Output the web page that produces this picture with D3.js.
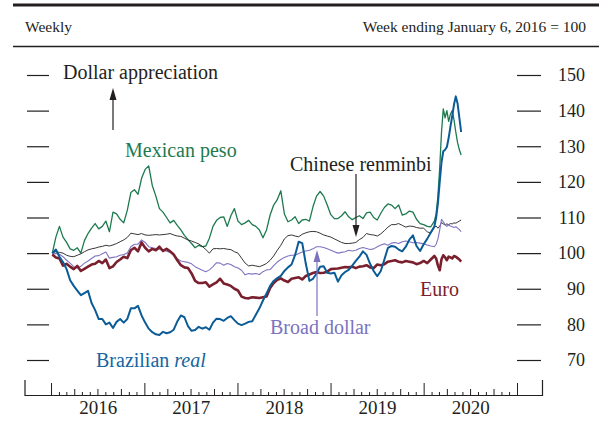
<!DOCTYPE html>
<html><head><meta charset="utf-8">
<script src="https://cdnjs.cloudflare.com/ajax/libs/d3/7.8.5/d3.min.js"></script>
<style>
body{margin:0;background:#fff;}
svg{display:block;font-family:"Liberation Serif","Times New Roman",serif;}
</style></head><body>
<svg id="chart" width="599" height="421"></svg>
<script>
const dates = [
"2016-01-06","2016-01-20","2016-02-03","2016-02-17","2016-03-02","2016-03-16","2016-03-30","2016-04-13","2016-04-27","2016-05-11","2016-05-25","2016-06-08","2016-06-22","2016-07-06","2016-07-20","2016-08-03","2016-08-17","2016-08-31","2016-09-14","2016-09-28","2016-10-12","2016-10-26","2016-11-09","2016-11-23","2016-12-07","2016-12-21",
"2017-01-04","2017-01-18","2017-02-01","2017-02-15","2017-03-01","2017-03-15","2017-03-29","2017-04-12","2017-04-26","2017-05-10","2017-05-24","2017-06-07","2017-06-21","2017-07-05","2017-07-19","2017-08-02","2017-08-16","2017-08-30","2017-09-13","2017-09-27","2017-10-11","2017-10-25","2017-11-08","2017-11-22","2017-12-06","2017-12-20",
"2018-01-03","2018-01-17","2018-01-31","2018-02-14","2018-02-28","2018-03-14","2018-03-28","2018-04-11","2018-04-25","2018-05-09","2018-05-23","2018-06-06","2018-06-20","2018-07-04","2018-07-18","2018-08-01","2018-08-15","2018-08-29","2018-09-12","2018-09-26","2018-10-10","2018-10-24","2018-11-07","2018-11-21","2018-12-05","2018-12-19",
"2019-01-02","2019-01-16","2019-01-30","2019-02-13","2019-02-27","2019-03-13","2019-03-27","2019-04-10","2019-04-24","2019-05-08","2019-05-22","2019-06-05","2019-06-19","2019-07-03","2019-07-17","2019-07-31","2019-08-14","2019-08-28","2019-09-11","2019-09-25","2019-10-09","2019-10-23","2019-11-06","2019-11-20","2019-12-04","2019-12-18",
"2020-01-01","2020-01-15","2020-01-29","2020-02-12","2020-02-19","2020-02-26","2020-03-04","2020-03-11","2020-03-18","2020-03-25","2020-04-01","2020-04-08","2020-04-15","2020-04-22","2020-04-29","2020-05-06","2020-05-13","2020-05-20","2020-05-27"
];

const mexicanPeso = [
100,104.5,107.5,104.5,103,101.2,100.8,101.5,100,103.5,105.5,107,108.3,106.8,107.5,109,106,111.5,111,109.5,108.5,112,117,117.8,116.5,121,
123.5,124.5,119,116,112.5,111.5,110,108.5,109.2,107.8,106.5,105,103.8,102.7,101.5,102.2,101.8,102,104.2,107.5,109.2,110,110.2,107.5,110.5,112.5,
109,108,108.5,109.2,108,107.5,106.5,104.3,106.5,110.7,113.5,115,117.5,111,108.8,109.3,110.2,108.3,109.3,109.5,109,113,116,117.3,116,113.5,
110.8,109.7,109.7,110.5,111.6,110.2,109.4,110,110.5,109.7,111.3,111.5,110,109.3,111.2,112.8,113.8,113.5,112.5,113.5,110.7,111,111.8,111.5,109.5,108.3,
108,107.5,107.4,109,111,116,124,134,140.5,138,140,137,139,140,137.4,134,131,129,127.5
];

const chineseRenminbi = [
100,100.4,100.2,100,99.4,99.1,99,99.4,99.8,100.4,100.9,101.2,101.4,101.7,101.9,102.2,102,102.3,102.7,103.2,103.7,104.4,105.6,105.4,105.2,105.5,
105.1,105,105.1,105.2,105.1,105.2,105.3,105.5,105.1,104.8,104.7,104.2,103.7,103.4,103,102.6,101.9,101,100,101.2,101.3,101.2,101.3,101.1,101,100.4,
100,98.6,97.2,96.4,96.6,96.4,96.2,96.6,97.1,98,99.2,100.8,102.2,104,104.9,105.1,104.8,104.6,105.3,105.7,106,106.1,106,105.6,105.1,104.8,
104.5,104,103.5,103,102.7,102.7,102.8,103,103.8,104.4,105.5,105.2,105.1,104.8,105.4,106.3,107.3,108,108,108.3,107.8,107.3,107.6,107.5,107.2,107,
107,106,105.6,107.2,107.6,107,107.6,108.6,108.2,107.9,108.2,108,108.3,108.2,108.5,108.4,108.7,109,109.3
];

const broadDollar = [
99.8,99.9,99.7,99,98,97.2,96.2,95.8,96.3,97.2,97.8,98.5,99.2,99.3,99.8,100.3,98.6,98.8,99,99.4,99.6,100,101.8,102.5,102.5,103.7,
103,101.8,101.5,101.3,101,100.8,100.5,100.2,99.4,98.4,97.8,97.6,97.4,97,96.2,95.7,95.2,94.8,95.3,96.2,97.3,97.2,96.6,97.1,96.8,96.2,
95.8,95.2,93.9,94.3,94.1,94.3,94,94.8,95.3,95.4,96.5,97.5,98.2,98.8,99.2,99.4,99.4,99.9,100.3,100.6,100.8,101.2,101.8,101.8,101.6,101.2,
100.8,100.4,100,100.2,100.4,100.8,100.6,100.8,101.3,101.6,101.3,101,101.2,101.8,102.3,102.6,102.2,102.8,103,102.7,103.2,103.4,103.2,102.9,103,102.8,
102.6,102.3,102,101.8,102.5,104,106.5,109.5,108.8,108,107.5,107.9,107.6,107.4,107.2,107.4,107,106.6,106
];

const euro = [
99.6,98.8,98.5,96.5,97,96.2,95.5,96.4,95,95.6,96.2,96.8,97,97.8,97.2,98.2,95.8,96.3,97.5,98.2,99,98.6,100.8,101.5,100.5,103,
101.5,100.5,101.2,100.8,101.8,100.6,101.2,100.5,99.6,98,96.6,96,95.8,94.3,92.2,91.6,91.6,91.8,90.6,91.2,91.8,92.8,91.5,91.2,90.8,90,
89.5,87.8,87.4,87.3,87.6,87.5,87.4,87.6,87.8,90.2,91.6,92.5,92.9,92.3,91.9,92.8,93,93.2,92.6,93.6,94,94.4,94.7,94.4,94.5,94.8,
95.5,95.6,95.7,95.9,96.1,96,96.2,95.8,96.2,96.3,96.6,96,95.8,96.8,96.6,96.9,97.6,97.8,98,97.6,97.4,97.8,97.6,97.4,96.9,97.2,
97.8,97.2,98.2,99.2,98.5,96.5,95.2,98.3,99.4,98.8,98,99,98.8,98.5,99.2,99,98.6,98.2,97.6
];

const brazilianReal = [
100,101,99,97.5,95.5,92.4,90.8,89.5,88.2,88.8,89.4,86,84,81.5,81.5,80,80.5,79,80.7,81.5,80.5,81.5,84.5,84.5,85.2,82.5,
80.5,78.8,77.8,77.2,77,77.9,77.5,77.8,78.5,80.8,82.5,82,79.5,78.2,78.4,79.3,78.8,79.2,78.5,80.5,81.6,81.5,81,81.8,82.3,81.2,
80.2,79.8,80.2,80.7,80.9,82.7,84.5,86.7,88.7,90.8,92.2,93,93.6,95,96,96.8,99.5,103.2,102.8,97,92.2,92.8,94.3,96.2,96.3,94.5,
94.3,94.5,92,93.8,94.7,95.3,96.5,97.8,99,100.5,99.5,97,95,93.5,95,98.2,101.5,102,101.8,101,100.5,101.8,103.8,105,102,100.6,
102.5,104,105.8,107.5,110,114,120,125.5,128.6,129,129.8,132.3,135.5,138.5,141.7,144,142,138,134
];

const yTicks = [70, 80, 90, 100, 110, 120, 130, 140, 150];
const yearLabels = ["2016", "2017", "2018", "2019", "2020"];

const svg = d3.select("#chart");
const ink = "#231f20";
const parse = d3.utcParse("%Y-%m-%d");
const x = d3.scaleUtc().domain([parse("2015-09-19"), parse("2021-04-09")]).range([24.5, 542]);
const y = d3.scaleLinear().domain([70, 150]).range([360, 75]);

// header
svg.append("line").attr("x1", 13).attr("x2", 599).attr("y1", 5).attr("y2", 5)
  .attr("stroke", ink).attr("stroke-width", 3);
svg.append("line").attr("x1", 13).attr("x2", 599).attr("y1", 46.5).attr("y2", 46.5)
  .attr("stroke", ink).attr("stroke-width", 1.4);
svg.append("text").attr("x", 25).attr("y", 32).attr("font-size", 15.5).attr("fill", ink).text("Weekly");
svg.append("text").attr("x", 586).attr("y", 32).attr("font-size", 15.5).attr("fill", ink)
  .attr("text-anchor", "end").text("Week ending January 6, 2016 = 100");

// y ticks both sides
const leftAxis = d3.axisRight(y).tickValues(yTicks).tickSize(22).tickFormat("");
svg.append("g").attr("transform", "translate(27,0)").call(leftAxis)
  .call(g => g.select(".domain").remove())
  .call(g => g.selectAll("line").attr("stroke", ink).attr("stroke-width", 1.2));
const rightAxis = d3.axisRight(y).tickValues(yTicks).tickSize(24).tickFormat(d3.format("d"));
svg.append("g").attr("transform", "translate(517,0)").call(rightAxis)
  .call(g => g.select(".domain").remove())
  .call(g => g.selectAll("line").attr("stroke", ink).attr("stroke-width", 1.2))
  .call(g => g.selectAll("text").attr("x", 68).attr("text-anchor", "end")
    .attr("font-family", "Liberation Serif").attr("font-size", 18).attr("fill", ink));

// x axis
const xBase = 395;
const months = d3.utcMonth.range(parse("2016-01-01"), parse("2021-01-02"));
const yearTicks = months.filter(d => d.getUTCMonth() === 0);
const quarterTicks = months.filter(d => d.getUTCMonth() % 3 === 0 && d.getUTCMonth() !== 0);
const monthTicks = months.filter(d => d.getUTCMonth() % 3 !== 0);
function tickLayer(vals, size, keepDomain) {
  const ax = d3.axisTop(x).tickValues(vals).tickSize(size).tickSizeOuter(15).tickFormat("");
  const g = svg.append("g").attr("transform", `translate(0,${xBase})`).call(ax);
  if (!keepDomain) g.select(".domain").remove();
  g.selectAll("line").attr("stroke", ink).attr("stroke-width", 1);
  g.select(".domain").attr("stroke", ink).attr("stroke-width", 1.2);
}
tickLayer(monthTicks, 3, false);
tickLayer(quarterTicks, 6, false);
tickLayer(yearTicks, 12, true);
const labelAxis = d3.axisBottom(x).tickValues(yearLabels.map(s => parse(s + "-07-02")))
  .tickSize(0).tickPadding(6).tickFormat(d3.utcFormat("%Y"));
svg.append("g").attr("transform", `translate(0,${xBase})`).call(labelAxis)
  .call(g => g.select(".domain").remove())
  .call(g => g.selectAll("text").attr("font-family", "Liberation Serif")
    .attr("font-size", 19).attr("fill", ink));

// series
const dt = dates.map(parse);
const series = [
  {values: mexicanPeso, color: "#1d7a4f", width: 1.3},
  {values: chineseRenminbi, color: "#231f20", width: 0.9},
  {values: broadDollar, color: "#7e74c0", width: 1.1},
  {values: euro, color: "#7a1f2d", width: 2.6},
  {values: brazilianReal, color: "#0b5c96", width: 2}
];
const line = d3.line().x(d => x(d[0])).y(d => y(d[1]));
series.forEach(s => {
  svg.append("path").datum(dt.map((d, i) => [d, s.values[i]]))
    .attr("d", line).attr("fill", "none").attr("stroke", s.color)
    .attr("stroke-width", s.width).attr("stroke-linejoin", "round");
});

// annotations
function label(txt, xx, yy, color) {
  return svg.append("text").attr("x", xx).attr("y", yy).attr("font-size", 20)
    .attr("fill", color).text(txt);
}
function arrow(xx, y0, tip, color) {
  const dir = tip < y0 ? 1 : -1;
  svg.append("line").attr("x1", xx).attr("x2", xx).attr("y1", y0).attr("y2", tip + dir * 8)
    .attr("stroke", color).attr("stroke-width", 1.2);
  svg.append("path").attr("d", `M${xx},${tip}L${xx - 3.5},${tip + dir * 12}L${xx + 3.5},${tip + dir * 12}Z`)
    .attr("fill", color);
}
label("Dollar appreciation", 63, 79, ink);
arrow(113, 130, 88, ink);
label("Mexican peso", 125, 157, "#1d7a4f");
label("Chinese renminbi", 290, 171, ink);
arrow(356, 174, 237, ink);
label("Euro", 420, 296, "#7a1f2d");
label("Broad dollar", 270, 334, "#7b72c0");
arrow(317, 316, 250, "#7b72c0");
const br = label("Brazilian ", 96, 367, "#1565a0");
br.append("tspan").attr("font-style", "italic").text("real");
</script>
</body></html>
